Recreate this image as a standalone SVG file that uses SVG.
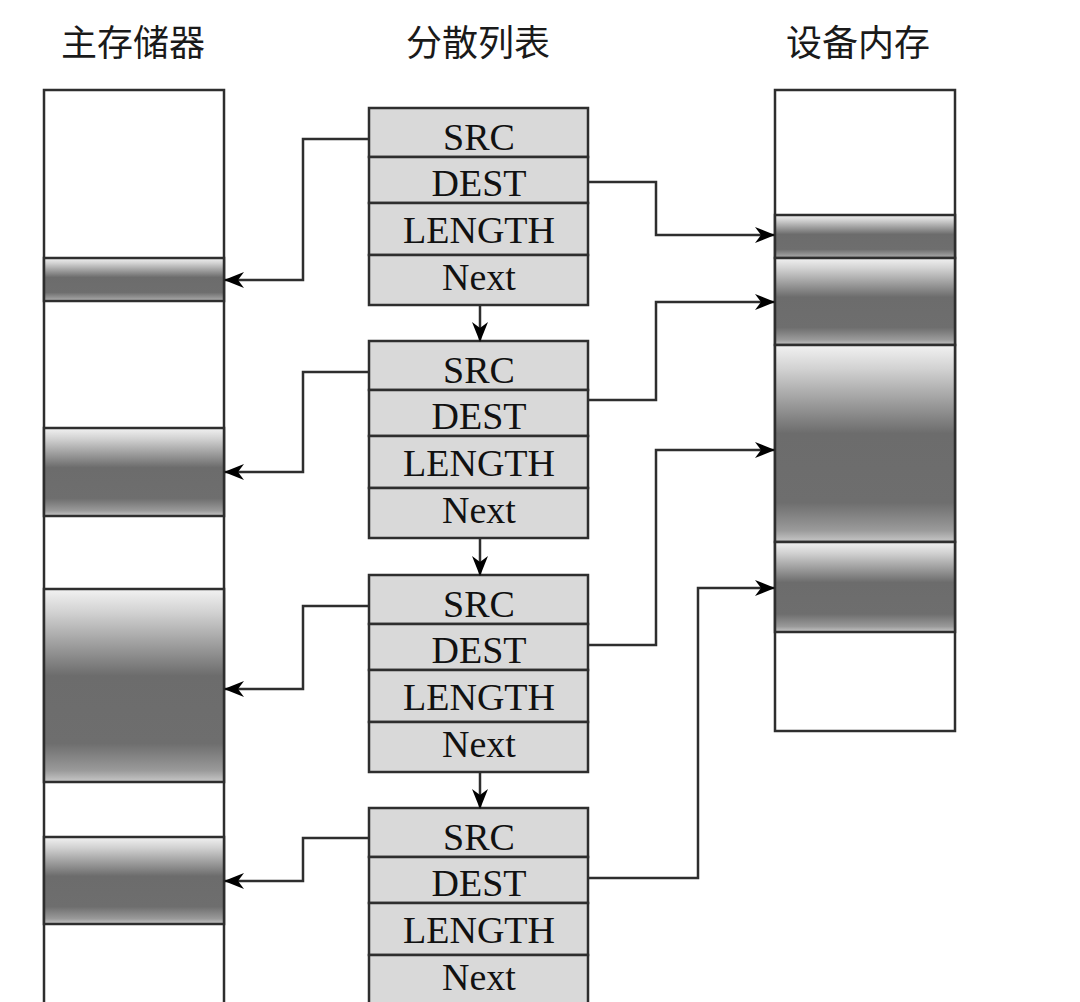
<svg xmlns="http://www.w3.org/2000/svg" width="1080" height="1002" viewBox="0 0 1080 1002">
<defs>
<linearGradient id="band" x1="0" y1="0" x2="0" y2="1">
<stop offset="0" stop-color="#f2f2f2"/>
<stop offset="0.12" stop-color="#d2d2d2"/>
<stop offset="0.45" stop-color="#6c6c6c"/>
<stop offset="0.8" stop-color="#6e6e6e"/>
<stop offset="0.94" stop-color="#9a9a9a"/>
<stop offset="1" stop-color="#c8c8c8"/>
</linearGradient>
<marker id="arr" markerWidth="20" markerHeight="16" refX="19" refY="8" orient="auto" markerUnits="userSpaceOnUse">
<path d="M0,0 L20,8 L0,16 L6,8 Z" fill="#000"/>
</marker>
</defs>
<style>
.t{font-family:"Noto Sans CJK SC","Noto Sans",sans-serif;font-size:36px;fill:#1a1a1a;text-anchor:middle}
.f{font-family:"Liberation Serif","Times New Roman",serif;font-size:38px;fill:#111;text-anchor:middle}
.box{fill:#fff;stroke:#2e2e2e;stroke-width:2.5}
.bd{fill:url(#band);stroke:#2e2e2e;stroke-width:2.5}
.cell{fill:#d9d9d9;stroke:#2e2e2e;stroke-width:2.5}
.c{fill:none;stroke:#2e2e2e;stroke-width:2.5;marker-end:url(#arr)}
</style>
<rect width="1080" height="1002" fill="#fff"/>
<g id="titles">
<text class="t" x="133" y="56">主存储器</text>
<text class="t" x="478" y="56">分散列表</text>
<text class="t" x="858" y="56">设备内存</text>
</g>
<g id="main-memory">
<rect class="box" x="44" y="90" width="180" height="930"/>
<rect class="bd" x="44" y="258" width="180" height="43"/>
<rect class="bd" x="44" y="428" width="180" height="88"/>
<rect class="bd" x="44" y="589" width="180" height="193"/>
<rect class="bd" x="44" y="837" width="180" height="87"/>
</g>
<g id="device-memory">
<rect class="box" x="775" y="90" width="180" height="641"/>
<rect class="bd" x="775" y="215" width="180" height="43"/>
<rect class="bd" x="775" y="258" width="180" height="87"/>
<rect class="bd" x="775" y="345" width="180" height="197"/>
<rect class="bd" x="775" y="542" width="180" height="90"/>
</g>
<g id="node1">
<rect class="cell" x="369" y="108" width="219" height="49"/>
<rect class="cell" x="369" y="157" width="219" height="46"/>
<rect class="cell" x="369" y="203" width="219" height="52"/>
<rect class="cell" x="369" y="255" width="219" height="50"/>
<text class="f" x="479" y="150">SRC</text>
<text class="f" x="479" y="196">DEST</text>
<text class="f" x="479" y="243">LENGTH</text>
<text class="f" x="479" y="290">Next</text>
</g>
<g id="node2">
<rect class="cell" x="369" y="341" width="219" height="49"/>
<rect class="cell" x="369" y="390" width="219" height="46"/>
<rect class="cell" x="369" y="436" width="219" height="52"/>
<rect class="cell" x="369" y="488" width="219" height="50"/>
<text class="f" x="479" y="383">SRC</text>
<text class="f" x="479" y="429">DEST</text>
<text class="f" x="479" y="476">LENGTH</text>
<text class="f" x="479" y="523">Next</text>
</g>
<g id="node3">
<rect class="cell" x="369" y="575" width="219" height="49"/>
<rect class="cell" x="369" y="624" width="219" height="46"/>
<rect class="cell" x="369" y="670" width="219" height="52"/>
<rect class="cell" x="369" y="722" width="219" height="50"/>
<text class="f" x="479" y="617">SRC</text>
<text class="f" x="479" y="663">DEST</text>
<text class="f" x="479" y="710">LENGTH</text>
<text class="f" x="479" y="757">Next</text>
</g>
<g id="node4">
<rect class="cell" x="369" y="808" width="219" height="49"/>
<rect class="cell" x="369" y="857" width="219" height="46"/>
<rect class="cell" x="369" y="903" width="219" height="52"/>
<rect class="cell" x="369" y="955" width="219" height="50"/>
<text class="f" x="479" y="850">SRC</text>
<text class="f" x="479" y="896">DEST</text>
<text class="f" x="479" y="943">LENGTH</text>
<text class="f" x="479" y="990">Next</text>
</g>
<g id="connectors">
<path class="c" d="M480,305 V341"/>
<path class="c" d="M480,538 V575"/>
<path class="c" d="M480,772 V808"/>
<path class="c" d="M369,139 H303 V280 H225"/>
<path class="c" d="M369,372 H303 V472 H225"/>
<path class="c" d="M369,606 H303 V689 H225"/>
<path class="c" d="M369,838 H303 V881 H225"/>
<path class="c" d="M588,182 H656 V235 H774"/>
<path class="c" d="M588,400 H656 V302 H774"/>
<path class="c" d="M588,645 H656 V450 H774"/>
<path class="c" d="M588,878 H698 V588 H774"/>
</g>
</svg>
